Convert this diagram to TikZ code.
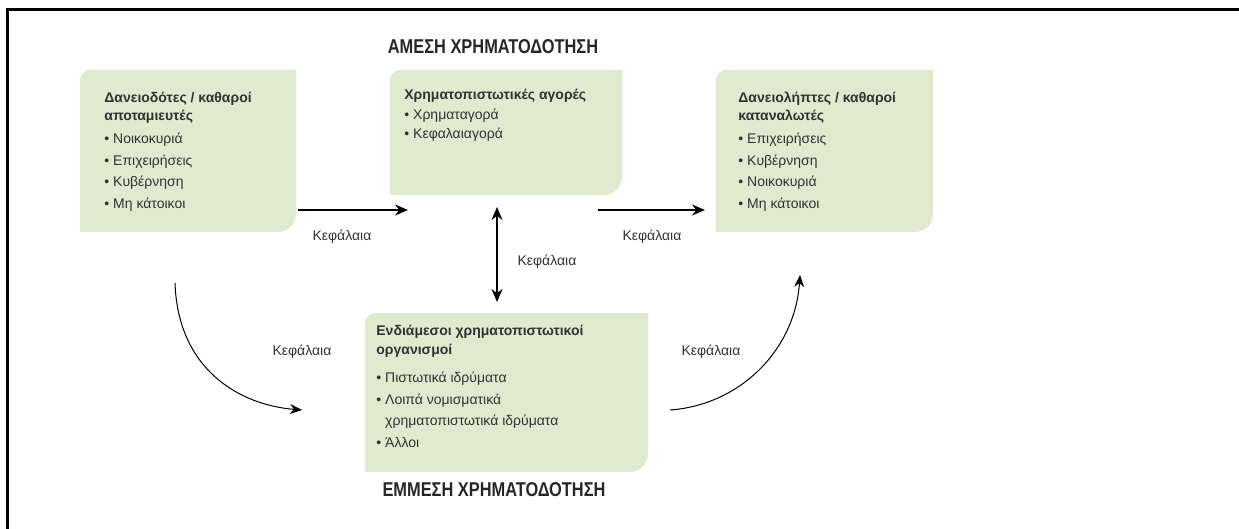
\documentclass[tikz,border=0pt]{standalone}
\usepackage{fontspec}
\setmainfont{Liberation Sans}
\usetikzlibrary{arrows.meta,calc,positioning}
\definecolor{boxgreen}{RGB}{222,235,207}
\definecolor{txtgray}{RGB}{50,50,50}
\tikzstyle{greenbox} = [inner sep=0pt, outer sep=0pt]
\tikzstyle{boxtext} = [anchor=north west, inner sep=0pt, align=left, text=txtgray, font=\fontsize{7}{10.75}\selectfont]
\tikzstyle{lbl} = [inner sep=0pt, text=txtgray, font=\fontsize{7}{8}\selectfont]
\tikzstyle{title} = [inner sep=0pt, text=black!85, font=\fontsize{10}{12}\selectfont\bfseries]
\tikzstyle{arrow} = [line width=0.85pt,->,>={Stealth[length=6.5pt,width=5.5pt]}]
\tikzstyle{curve} = [line width=0.5pt,->,>={Stealth[length=6pt,width=5pt]}]

% green box: rounded top-left and bottom-right only
\newcommand{\leafbox}[1]{%
  \fill[boxgreen] (#1.south west) -- ($(#1.north west)+(0pt,-5pt)$)
    arc[start angle=180, end angle=90, radius=5pt] -- (#1.north east)
    -- ($(#1.south east)+(0pt,9pt)$)
    arc[start angle=0, end angle=-90, radius=9pt] -- cycle;}

\begin{document}
\begin{tikzpicture}[x=0.5pt, y=-0.5pt]
  \useasboundingbox (0,0) rectangle (1239,529);
  \draw[line width=1.5pt] (7,529) -- (7,10) -- (1239,10);

  % titles
  \node[title] (direct) at (493,47) {\scalebox{0.82}[1]{ΑΜΕΣΗ ΧΡΗΜΑΤΟΔΟΤΗΣΗ}};
  \node[title] (indirect) at (494,490) {\scalebox{0.82}[1]{ΕΜΜΕΣΗ ΧΡΗΜΑΤΟΔΟΤΗΣΗ}};

  % boxes
  \node[greenbox, minimum width=108pt, minimum height=81pt] (lenders) at (188,151) {};
  \leafbox{lenders}
  \node[boxtext] (lenderstxt) at (104,92) {\textbf{Δανειοδότες / καθαροί}\\[-1.75pt]
    \textbf{αποταμιευτές}\\[0.75pt]
    • Νοικοκυριά\\
    • Επιχειρήσεις\\
    • Κυβέρνηση\\
    • Μη κάτοικοι};

  \node[greenbox, minimum width=116pt, minimum height=62.5pt] (markets) at (506,132.5) {};
  \leafbox{markets}
  \node[boxtext] (marketstxt) at (404,89) {\textbf{Χρηματοπιστωτικές αγορές}\\[-1pt]
    • Χρηματαγορά\\[-1pt]
    • Κεφαλαιαγορά};

  \node[greenbox, minimum width=108.5pt, minimum height=81pt] (borrowers) at (824.5,151) {};
  \leafbox{borrowers}
  \node[boxtext] (borrowerstxt) at (738,92) {\textbf{Δανειολήπτες / καθαροί}\\[-1.75pt]
    \textbf{καταναλωτές}\\[0.75pt]
    • Επιχειρήσεις\\
    • Κυβέρνηση\\
    • Νοικοκυριά\\
    • Μη κάτοικοι};

  \node[greenbox, minimum width=141.5pt, minimum height=79.5pt] (interm) at (506.5,392.5) {};
  \leafbox{interm}
  \node[boxtext] (intermtxt) at (376,325) {\textbf{Ενδιάμεσοι χρηματοπιστωτικοί}\\[-1.25pt]
    \textbf{οργανισμοί}\\[3.25pt]
    • Πιστωτικά ιδρύματα\\
    • Λοιπά νομισματικά\\
    \hphantom{• }χρηματοπιστωτικά ιδρύματα\\
    • Άλλοι};

  % arrow ends
  \coordinate (a1s) at (298,210);
  \coordinate (a1e) at (408,210);
  \coordinate (a2s) at (598,210);
  \coordinate (a2e) at (705,210);
  \coordinate (a3t) at (497,207);
  \coordinate (a3b) at (497,302);
  \coordinate (a4s) at (175,283);
  \coordinate (a4e) at (302,410);
  \coordinate (a5s) at (670,410);
  \coordinate (a5e) at (800,275);

  \draw[arrow] (a1s) -- (a1e);
  \draw[arrow] (a2s) -- (a2e);
  \draw[arrow,<->] (a3t) -- (a3b);
  \draw[curve] (a4s) .. controls (178,370) and (240,405) .. (a4e);
  \draw[curve] (a5s) .. controls (740,405) and (795,350) .. (a5e);

  % labels
  \node[lbl] (k1) at (342,237) {Κεφάλαια};
  \node[lbl] (k2) at (652,237) {Κεφάλαια};
  \node[lbl] (k3) at (547,262) {Κεφάλαια};
  \node[lbl] (k4) at (302,352) {Κεφάλαια};
  \node[lbl] (k5) at (711,352) {Κεφάλαια};
\end{tikzpicture}
\end{document}
